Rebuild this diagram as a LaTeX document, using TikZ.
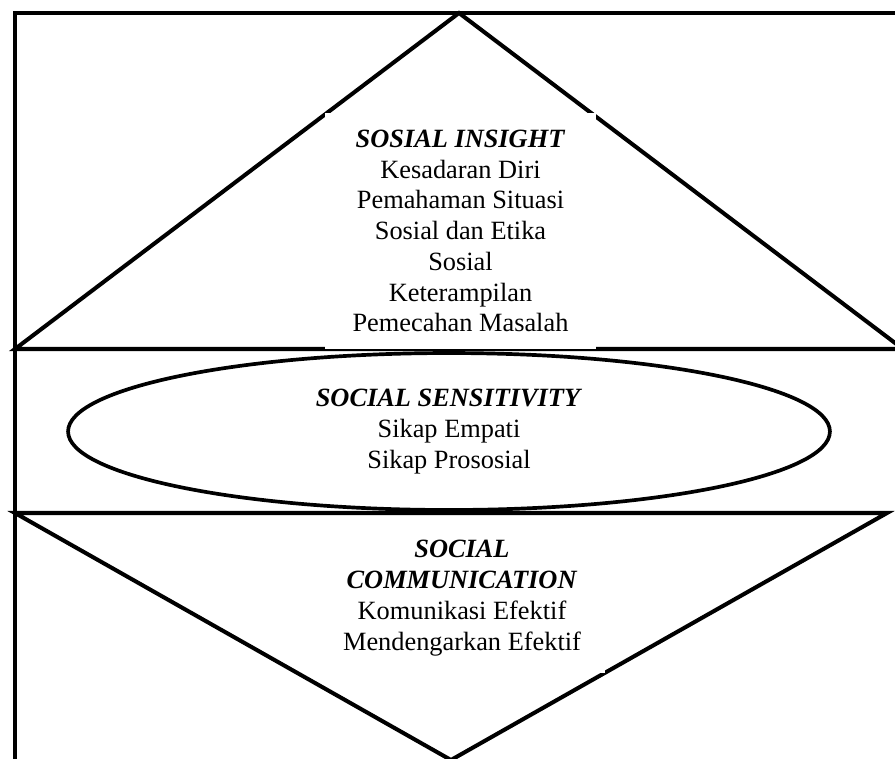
\documentclass[tikz,border=0pt]{standalone}
\usepackage{fontspec}
\setmainfont{Liberation Serif}
\usepackage{tikz}
\usetikzlibrary{shapes.geometric}
\definecolor{ink}{HTML}{000000}
\definecolor{paper}{HTML}{FFFFFF}

\begin{document}
\begin{tikzpicture}[x=0.02cm,y=-0.02cm,line width=2.3pt,draw=ink,
  itemtext/.style={font=\fontsize{15}{17.5}\selectfont,align=center,fill=paper,inner sep=0pt}]
\useasboundingbox (0,0) rectangle (895,758);
\clip (0,0) rectangle (895,758);

% Corner points of the frame and the two triangles
\foreach \name/\x/\y in {TL/15/13,TR/912/13,BL/15/775,
                         A/459/13,B/15/349,C/903/349,
                         D/15/513,E/887/513,F/451/760}{
  \coordinate (\name) at (\x,\y);
}

% Frame: left edge and top edge
\draw[ink] (BL) -- (TL) -- (TR);

% Upper triangle (its base is the first band line)
\draw[ink] (A) -- (B) -- (C) -- cycle;

% Lower triangle, pointing down
\draw[ink] (D) -- (E) -- (F) -- cycle;

% Middle ellipse
\node[ellipse,draw=ink,fill=paper,line width=2.1pt,inner sep=0pt,
      minimum width=15.24cm,minimum height=3.14cm,
      font=\fontsize{15}{17.5}\selectfont,align=center] (sensitivity) at (449,431.5)
  {\textbf{\textit{SOCIAL SENSITIVITY}}\\Sikap Empati\\Sikap Prososial};

% Text boxes (white, so they hide bits of the lines)
\node[itemtext,minimum width=5.42cm,minimum height=4.74cm] (insight) at (460.5,231)
  {\textbf{\textit{SOSIAL INSIGHT}}\\Kesadaran Diri\\Pemahaman Situasi\\Sosial dan Etika\\Sosial\\Keterampilan\\Pemecahan Masalah};
\node[itemtext,minimum width=5.72cm,minimum height=3.0cm] (communication) at (462,598)
  {\textbf{\textit{SOCIAL}}\\\textbf{\textit{COMMUNICATION}}\\Komunikasi Efektif\\Mendengarkan Efektif};
\end{tikzpicture}
\end{document}
